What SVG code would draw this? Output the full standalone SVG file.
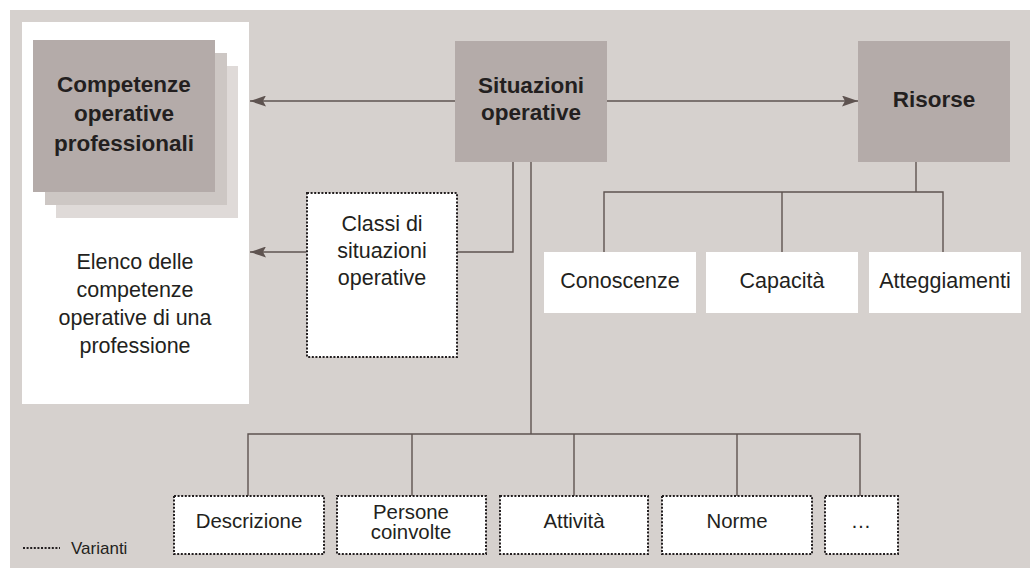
<svg xmlns="http://www.w3.org/2000/svg" width="1030" height="578" viewBox="0 0 1030 578">
<defs>
<style>
.bg{fill:#d6d1ce}
.dark{fill:#b4aba9}
.mid{fill:#cdc7c4}
.light{fill:#dfdad8}
.white{fill:#ffffff}
.dot{fill:#ffffff;stroke:#231f20;stroke-width:2;stroke-dasharray:2 1.6}
.ln{fill:none;stroke:#5e5350;stroke-width:1.4}
.tb{font-family:"Liberation Sans",Arial,sans-serif;font-weight:bold;font-size:22.5px;fill:#231f20;text-anchor:middle}
.tr{font-family:"Liberation Sans",Arial,sans-serif;font-size:21.5px;fill:#231f20;text-anchor:middle}
.ts{font-family:"Liberation Sans",Arial,sans-serif;font-size:20.4px;fill:#231f20;text-anchor:middle}
</style>
<marker id="arr" markerWidth="16" markerHeight="11" refX="16" refY="5.5" orient="auto" markerUnits="userSpaceOnUse">
<path d="M0,0 L16,5.5 L0,11 L3,5.5 z" fill="#5e5350"/>
</marker>
</defs>
<rect class="bg" x="10" y="10" width="1020" height="558"/>
<rect class="white" x="22" y="22" width="227" height="382"/>

<g id="connectors">
<line class="ln" x1="455" y1="101" x2="250" y2="101" marker-end="url(#arr)"/>
<line class="ln" x1="607" y1="101" x2="858" y2="101" marker-end="url(#arr)"/>
<polyline class="ln" points="513,162 513,252 457,252"/>
<line class="ln" x1="306" y1="252" x2="250" y2="252" marker-end="url(#arr)"/>
<line class="ln" x1="531" y1="162" x2="531" y2="434"/>
<polyline class="ln" points="248,496 248,434 860,434 860,496"/>
<line class="ln" x1="412" y1="434" x2="412" y2="496"/>
<line class="ln" x1="574" y1="434" x2="574" y2="496"/>
<line class="ln" x1="737" y1="434" x2="737" y2="496"/>
<line class="ln" x1="916" y1="162" x2="916" y2="192"/>
<polyline class="ln" points="604,252 604,192 943,192 943,252"/>
<line class="ln" x1="782" y1="192" x2="782" y2="252"/>
</g>

<g id="competenze">
<rect class="light" x="56" y="66" width="182" height="152"/>
<rect class="mid" x="45" y="53" width="182" height="152"/>
<rect class="dark" x="33" y="40" width="182" height="152"/>
<text class="tb" x="124" y="92">Competenze</text>
<text class="tb" x="124" y="121">operative</text>
<text class="tb" x="124" y="151">professionali</text>
</g>

<g id="elenco">
<text class="tr" x="135" y="269">Elenco delle</text>
<text class="tr" x="135" y="297">competenze</text>
<text class="tr" x="135" y="325">operative di una</text>
<text class="tr" x="135" y="353">professione</text>
</g>

<g id="situazioni">
<rect class="dark" x="455" y="41" width="152" height="121"/>
<text class="tb" x="531" y="93">Situazioni</text>
<text class="tb" x="531" y="120">operative</text>
</g>

<g id="risorse">
<rect class="dark" x="858" y="41" width="152" height="121"/>
<text class="tb" x="934" y="107">Risorse</text>
</g>

<g id="classi">
<rect class="dot" x="307" y="193" width="150" height="164"/>
<text class="tr" x="382" y="231">Classi di</text>
<text class="tr" x="382" y="258">situazioni</text>
<text class="tr" x="382" y="285">operative</text>
</g>

<g id="conoscenze">
<rect class="white" x="544" y="252" width="152" height="61"/>
<text class="tr" x="620" y="288">Conoscenze</text>
</g>
<g id="capacita">
<rect class="white" x="706" y="252" width="152" height="61"/>
<text class="tr" x="782" y="288">Capacità</text>
</g>
<g id="atteggiamenti">
<rect class="white" x="869" y="252" width="152" height="61"/>
<text class="tr" x="945" y="288">Atteggiamenti</text>
</g>

<g id="descrizione">
<rect class="dot" x="174" y="496" width="150" height="58"/>
<text class="ts" x="249" y="528">Descrizione</text>
</g>
<g id="persone">
<rect class="dot" x="337" y="496" width="149" height="58"/>
<text class="ts" x="411" y="519">Persone</text>
<text class="ts" x="411" y="539">coinvolte</text>
</g>
<g id="attivita">
<rect class="dot" x="500" y="496" width="148" height="58"/>
<text class="ts" x="574" y="528">Attività</text>
</g>
<g id="norme">
<rect class="dot" x="662" y="496" width="150" height="58"/>
<text class="ts" x="737" y="528">Norme</text>
</g>
<g id="altro">
<rect class="dot" x="825" y="496" width="73" height="58"/>
<text class="ts" x="861" y="528">…</text>
</g>

<g id="legenda">
<line x1="23" y1="548" x2="60" y2="548" stroke="#231f20" stroke-width="2" stroke-dasharray="2 1.6"/>
<text x="71" y="554" font-family="Liberation Sans, Arial, sans-serif" font-size="17" fill="#231f20">Varianti</text>
</g>
</svg>
